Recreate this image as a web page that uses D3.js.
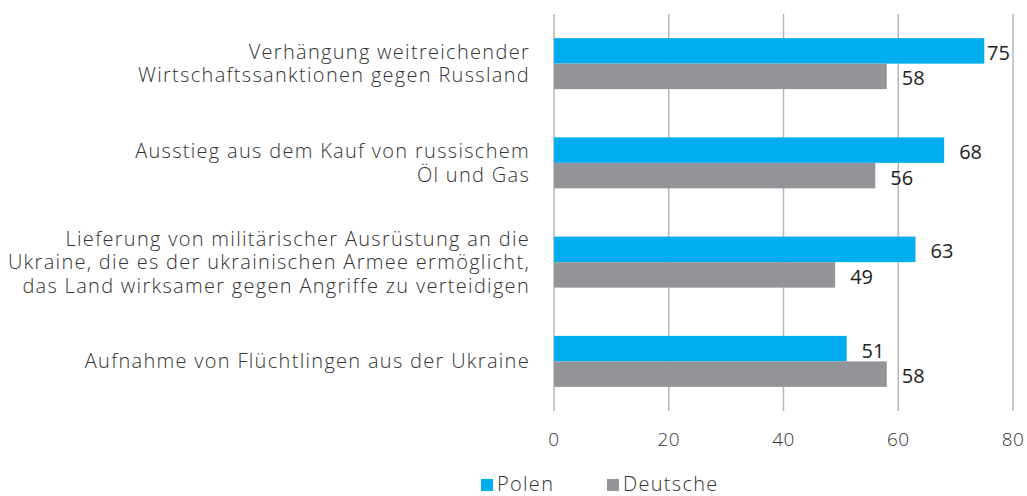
<!DOCTYPE html>
<html>
<head>
<meta charset="utf-8">
<script src="https://cdn.jsdelivr.net/npm/d3@7"></script>
<style>
  body { margin: 0; background: #fff; }
  svg { display: block; font-family: "Open Sans", sans-serif; }
</style>
</head>
<body>
<svg id="chart" width="1027" height="496"></svg>
<script>
// data
var categories = [
  ['Verhängung weitreichender', 'Wirtschaftssanktionen gegen Russland'],
  ['Ausstieg aus dem Kauf von russischem', 'Öl und Gas'],
  ['Lieferung von militärischer Ausrüstung an die', 'Ukraine, die es der ukrainischen Armee ermöglicht,', 'das Land wirksamer gegen Angriffe zu verteidigen'],
  ['Aufnahme von Flüchtlingen aus der Ukraine']
];
var seriesNames = ['Polen', 'Deutsche'];
var polen = [75, 68, 63, 51];
var deutsche = [58, 56, 49, 58];
var xTicks = [0, 20, 40, 60, 80];

var colors = ['#00aeef', '#939598'];
var values = [polen, deutsche];

var svg = d3.select('#chart');
var plot = { left: 554, right: 1013, top: 14, bottom: 411 };

var x = d3.scaleLinear().domain([0, 80]).range([plot.left, plot.right]);
var y0 = d3.scaleBand()
  .domain(d3.range(categories.length))
  .range([plot.top, plot.bottom])
  .paddingInner(0.486)
  .paddingOuter(0.243);
var y1 = d3.scaleBand()
  .domain(d3.range(seriesNames.length))
  .range([0, y0.bandwidth()]);

// vertical gridlines
svg.append('g')
  .selectAll('line')
  .data(xTicks)
  .enter()
  .append('line')
  .attr('x1', function(d){ return x(d); })
  .attr('x2', function(d){ return x(d); })
  .attr('y1', plot.top)
  .attr('y2', plot.bottom)
  .attr('stroke', '#b7b7b9')
  .attr('stroke-width', 1.5);

// tick labels
svg.append('g')
  .selectAll('text')
  .data(xTicks)
  .enter()
  .append('text')
  .attr('x', function(d){ return x(d); })
  .attr('y', 446)
  .attr('text-anchor', 'middle')
  .style('font-size', '19px')
  .style('font-weight', 300)
  .style('letter-spacing', '0.5px')
  .attr('fill', '#333')
  .text(function(d){ return d; });

// bar groups
var groups = svg.append('g')
  .selectAll('g')
  .data(categories)
  .enter()
  .append('g')
  .attr('transform', function(d, i){ return 'translate(0,' + y0(i) + ')'; });

groups.each(function(cat, i){
  var g = d3.select(this);
  seriesNames.forEach(function(s, j){
    var v = values[j][i];
    g.append('rect')
      .attr('x', x(0))
      .attr('y', y1(j))
      .attr('width', x(v) - x(0))
      .attr('height', y1.bandwidth())
      .attr('fill', colors[j]);

    // value label, pulled inward when it would run past the plot
    var lx = Math.min(x(v) + 15, plot.right - 26);
    g.append('text')
      .attr('x', lx)
      .attr('y', y1(j) + y1.bandwidth() / 2 + 9)
      .style('font-size', '20px')
      .attr('fill', '#222')
      .text(v);
  });

  // category label, centred on the group
  var lineH = 23.5;
  var n = cat.length;
  var t = g.append('text')
    .attr('text-anchor', 'end')
    .style('font-size', '20px')
    .style('font-weight', 300)
    .style('letter-spacing', '1.3px')
    .attr('fill', '#333');
  cat.forEach(function(line, k){
    t.append('tspan')
      .attr('x', 530)
      .attr('y', y0.bandwidth() / 2 + (k - (n - 1) / 2) * lineH + 7)
      .text(line);
  });
});

// legend
var legend = svg.append('g')
  .selectAll('g')
  .data(seriesNames)
  .enter()
  .append('g')
  .attr('transform', function(d, i){ return 'translate(' + [481, 607][i] + ',479)'; });

legend.append('rect')
  .attr('width', 12)
  .attr('height', 12)
  .attr('fill', function(d, i){ return colors[i]; });

legend.append('text')
  .attr('x', 16)
  .attr('y', 12)
  .style('font-size', '20px')
  .style('font-weight', 300)
  .style('letter-spacing', '1.3px')
  .attr('fill', '#333')
  .text(function(d){ return d; });
</script>
</body>
</html>
